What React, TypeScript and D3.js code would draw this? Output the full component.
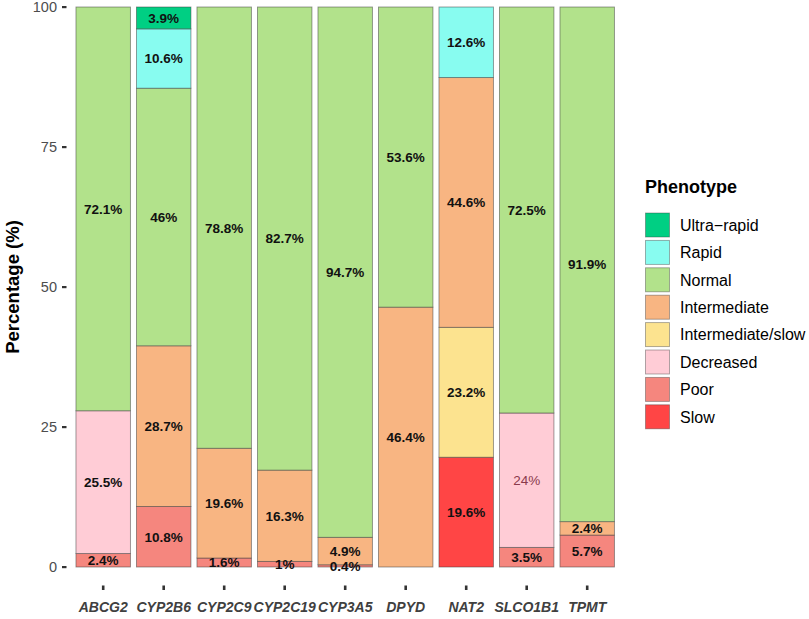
import React from "react";
import * as d3 from "d3";

const genes = ["ABCG2", "CYP2B6", "CYP2C9", "CYP2C19", "CYP3A5", "DPYD", "NAT2", "SLCO1B1", "TPMT"];
// stack order, bottom to top
const phenotypes = ["Slow", "Poor", "Decreased", "Intermediate/slow", "Intermediate", "Normal", "Rapid", "Ultra-rapid"];
const colours = ["#ff4545", "#f5867e", "#ffccd6", "#fce38f", "#f8b582", "#b2e28b", "#88fcf0", "#00cf83"];

const slow = [0, 0, 0, 0, 0, 0, 19.6, 0, 0];
const poor = [2.4, 10.8, 1.6, 1, 0.4, 0, 0, 3.5, 5.7];
const decreased = [25.5, 0, 0, 0, 0, 0, 0, 24, 0];
const intermediateSlow = [0, 0, 0, 0, 0, 0, 23.2, 0, 0];
const intermediate = [0, 28.7, 19.6, 16.3, 4.9, 46.4, 44.6, 0, 2.4];
const normal = [72.1, 46, 78.8, 82.7, 94.7, 53.6, 0, 72.5, 91.9];
const rapid = [0, 10.6, 0, 0, 0, 0, 12.6, 0, 0];
const ultraRapid = [0, 3.9, 0, 0, 0, 0, 0, 0, 0];

const yTicks = [0, 25, 50, 75, 100];

const series = [slow, poor, decreased, intermediateSlow, intermediate, normal, rapid, ultraRapid];

const W = 809;
const H = 619;
const FONT = "'Liberation Sans', Arial, Helvetica, sans-serif";

export default function App() {
  const rows = genes.map((g, i) => {
    const r: Record<string, any> = { gene: g };
    phenotypes.forEach((p, j) => (r[p] = series[j][i]));
    return r;
  });
  const stacked = d3.stack<any>().keys(phenotypes)(rows);

  // discrete axis with ggplot-style 0.6 expansion
  const x = d3.scaleBand().domain(genes).range([103.2 - 30.25, 587.2 + 30.25]).paddingInner(0.1).paddingOuter(0.05);
  const y = d3.scaleLinear().domain([0, 100]).range([567, 7]);
  const colour = d3.scaleOrdinal<string>().domain(phenotypes).range(colours);

  const legendItems = phenotypes.slice().reverse();

  return (
    <svg width={W} height={H} style={{ position: "absolute", left: 0, top: 0 }} fontFamily={FONT}>
      <rect width={W} height={H} fill="#fff" />
      {stacked.map((layer) => (
        <g key={layer.key}>
          {layer.map((d, i) =>
            d[1] - d[0] > 0 ? (
              <rect
                key={i}
                x={x(genes[i])}
                width={x.bandwidth()}
                y={y(d[1])}
                height={y(d[0]) - y(d[1])}
                fill={colour(layer.key)}
                stroke="rgba(60,60,60,0.55)"
                strokeWidth={0.9}
              />
            ) : null
          )}
        </g>
      ))}
      {stacked.map((layer, j) => (
        <g key={"t" + layer.key}>
          {layer.map((d, i) => {
            const v = series[j][i];
            if (v <= 0) return null;
            const isDec = layer.key === "Decreased" && genes[i] === "SLCO1B1";
            return (
              <text
                key={i}
                x={x(genes[i])! + x.bandwidth() / 2}
                y={y((d[0] + d[1]) / 2)}
                dy="0.36em"
                textAnchor="middle"
                fontSize={13.5}
                fontWeight={isDec ? "normal" : "bold"}
                fill={isDec ? "#8a3a4c" : "#111"}
              >
                {v}%
              </text>
            );
          })}
        </g>
      ))}
      {/* y axis */}
      {yTicks.map((t) => (
        <g key={t}>
          <rect x={62} y={y(t) - 1} width={4.5} height={2.2} fill="#333" />
          <text x={57} y={y(t)} dy="0.36em" textAnchor="end" fontSize={14.5} fill="#4d4d4d">
            {t}
          </text>
        </g>
      ))}
      <text
        transform={`translate(19,${(y(0) + y(100)) / 2}) rotate(-90)`}
        textAnchor="middle"
        fontSize={18.5}
        fontWeight="bold"
        fill="#000"
      >
        Percentage (%)
      </text>
      {/* x axis */}
      {genes.map((g) => {
        const cx = x(g)! + x.bandwidth() / 2;
        return (
          <g key={g}>
            <rect x={cx - 1.3} y={585.5} width={2.6} height={4.5} fill="#333" />
            <text x={cx} y={612} textAnchor="middle" fontSize={14} fontStyle="italic" fontWeight="bold" fill="#404040">
              {g}
            </text>
          </g>
        );
      })}
      {/* legend */}
      <text x={645} y={193} fontSize={18} fontWeight="bold" fill="#000">
        Phenotype
      </text>
      {legendItems.map((p, i) => {
        const ky = 213 + i * 27.4;
        return (
          <g key={p}>
            <rect x={645.5} y={ky} width={24} height={24} fill={colour(p)} stroke="rgba(60,60,60,0.45)" strokeWidth={0.9} />
            <text x={680} y={ky + 12} dy="0.36em" fontSize={16} fill="#000">
              {p === "Ultra-rapid" ? "Ultra\u2212rapid" : p}
            </text>
          </g>
        );
      })}
    </svg>
  );
}
